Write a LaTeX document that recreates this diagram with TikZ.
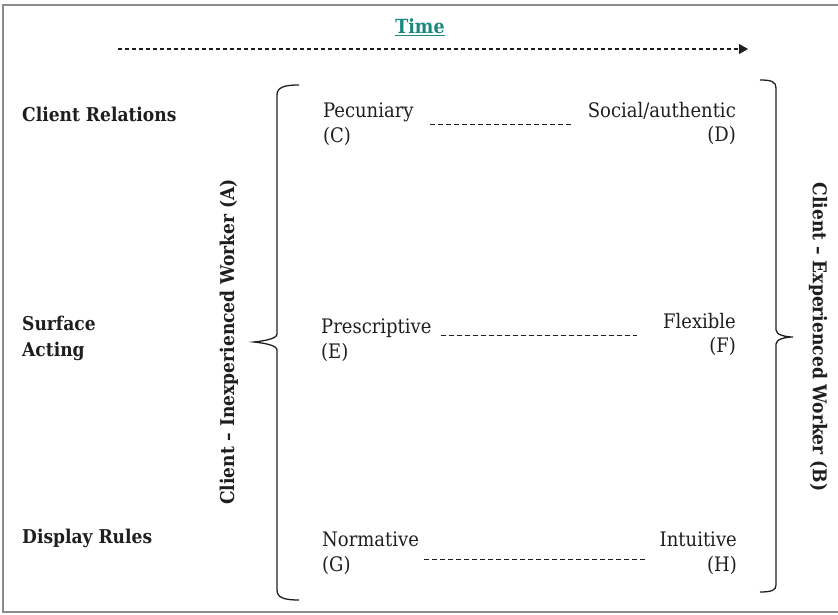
\documentclass[tikz,border=0pt]{standalone}
\usepackage{fontspec}
\setmainfont{DejaVu Serif Condensed}
\usetikzlibrary{arrows.meta}
\definecolor{timeteal}{RGB}{24,136,128}
\definecolor{framegray}{RGB}{140,140,140}
\definecolor{inkgray}{RGB}{30,30,30}
\begin{document}
\begin{tikzpicture}[x=1pt,y=-1pt,color=inkgray,
    rowlabel/.style={align=left,inner sep=0pt,font=\fontsize{19}{26}\selectfont\bfseries},
    pole/.style={align=left,inner sep=0pt,font=\fontsize{20}{24.5}\selectfont},
    poleright/.style={pole,align=right},
    sidelabel/.style={inner sep=0pt,font=\fontsize{19}{24}\selectfont\bfseries},
    dashline/.style={dash pattern=on 5pt off 3pt,line width=0.9pt},
    bracket/.style={line width=1.3pt}]
  \clip (0,0) rectangle (838,615);
  \draw[framegray,line width=1.5pt] (3,5) rectangle (900,612);

  % time axis
  \node[text=timeteal,font=\fontsize{19.5}{24}\selectfont\bfseries] (time) at (420,27) {\underline{Time}};
  \coordinate (t0) at (118,49);
  \coordinate (t1) at (748,49);
  \draw[dash pattern=on 4pt off 3pt,line width=1.1pt,-{Triangle[length=9pt,width=10pt]}] (t0) -- (t1);

  % rows
  \node[rowlabel,anchor=base west] (rel) at (22,122) {Client Relations};
  \node[rowlabel,anchor=north west] (act) at (22,316) {Surface\\Acting};
  \node[rowlabel,anchor=base west] (rules) at (22,543) {Display Rules};

  % poles
  \node[pole,anchor=north west] (C) at (323,103) {Pecuniary\\(C)};
  \node[poleright,anchor=north east] (D) at (736,102) {Social/authentic\\(D)};
  \node[pole,anchor=north west] (E) at (321,319) {Prescriptive\\(E)};
  \node[poleright,anchor=north east] (F) at (736,313) {Flexible\\(F)};
  \node[pole,anchor=north west] (G) at (322,532) {Normative\\(G)};
  \node[poleright,anchor=north east] (H) at (737,532) {Intuitive\\(H)};

  \draw[dashline] ([xshift=16pt]C.east) -- ([xshift=-15pt]C.east -| D.west);
  \draw[dashline] ([xshift=9pt,yshift=5pt]E.east) -- ([xshift=-26pt,yshift=5pt]E.east -| F.west);
  \draw[dashline] ([xshift=5pt,yshift=-6pt]G.east) -- ([xshift=-13pt,yshift=-6pt]G.east -| H.west);

  % brackets
  \draw[bracket] (299,85) .. controls (285,85) and (277,87) .. (277,95) -- (277,334)
    .. controls (277,339) and (263,341) .. (254,342) .. controls (263,343) and (277,345) .. (277,350)
    -- (277,590) .. controls (277,598) and (285,600) .. (299,600);
  \draw[bracket] (760,80) .. controls (772,80) and (776,82) .. (776,88) -- (776,330)
    .. controls (776,335) and (786,337) .. (793,337) .. controls (786,337) and (776,339) .. (776,344)
    -- (776,585) .. controls (776,590) and (772,592) .. (760,592);

  \node[sidelabel,rotate=90] (A) at (229,342) {Client – Inexperienced Worker (A)};
  \node[sidelabel,rotate=-90] (B) at (818,337) {Client – Experienced Worker (B)};
\end{tikzpicture}
\end{document}
